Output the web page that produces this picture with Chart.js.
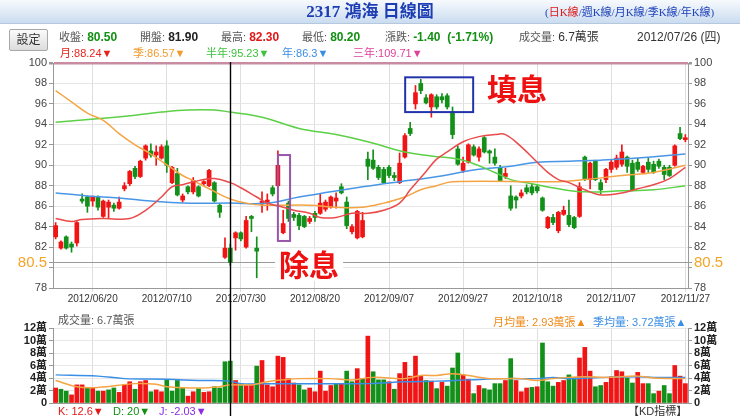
<!DOCTYPE html>
<html lang="zh-Hant">
<head>
<meta charset="UTF-8">
<title>2317 鴻海 日線圖</title>
<script src="https://cdn.jsdelivr.net/npm/chart.js"></script>
<style>
  body, html { margin: 0; padding: 0; background: #fff; font-family: Arial, "Liberation Sans", "Noto Sans CJK TC", sans-serif; }
  #wrap { position: relative; width: 740px; height: 416px; overflow: hidden; }
  .t { position: absolute; white-space: nowrap; font-size: 11px; line-height: 14px; z-index: 3; }
  .lab { color: #555; }
  .b { font-weight: bold; font-size: 12px; }
  #topbar { position: absolute; left: 0; top: 0; width: 740px; height: 23px; background: linear-gradient(#f7fafd, #cadcf0); border-bottom: 1px solid #b5c8de; }
  #title { position: absolute; left: 0; width: 740px; top: 2px; text-align: center; font: bold 17px "Liberation Serif", "Noto Sans CJK TC", serif; color: #1d3db4; line-height: 20px; z-index: 3; }
  #links { position: absolute; left: 545px; top: 5px; white-space: nowrap; font: 11px "Liberation Serif", "Noto Sans CJK TC", serif; color: #2244bb; line-height: 14px; z-index: 3; }
  #btn { position: absolute; left: 9px; top: 29px; width: 37px; height: 20px; border: 1px solid #a8a8a8; border-radius: 2px; background: linear-gradient(#fbfbfb, #dcdcdc); font-size: 12px; line-height: 20px; text-align: center; color: #333; z-index: 3; }
  canvas { position: absolute; left: 0; }
  #main { top: 0; z-index: 1; }
  #vol { top: 310px; z-index: 1; }
</style>
</head>
<body>
<div id="wrap">
  <div id="topbar"></div>
  <div id="title">2317 鴻海 日線圖</div>
  <div id="links">(<span style="color:#e01818">日K線</span>/週K線/月K線/季K線/年K線)</div>
  <div id="btn">設定</div>

  <div class="t" style="left:59px;top:30px"><span class="lab">收盤: </span><span class="b" style="color:#129012">80.50</span></div>
  <div class="t" style="left:140px;top:30px"><span class="lab">開盤: </span><span class="b" style="color:#222">81.90</span></div>
  <div class="t" style="left:221px;top:30px"><span class="lab">最高: </span><span class="b" style="color:#e01818">82.30</span></div>
  <div class="t" style="left:302px;top:30px"><span class="lab">最低: </span><span class="b" style="color:#129012">80.20</span></div>
  <div class="t" style="left:385px;top:30px"><span class="lab">漲跌: </span><span class="b" style="color:#129012">-1.40&nbsp; (-1.71%)</span></div>
  <div class="t" style="left:519px;top:30px"><span class="lab">成交量: </span><span style="color:#333;font-size:12px">6.7萬張</span></div>
  <div class="t" style="left:637px;top:30px;color:#333;font-size:12px">2012/07/26 (四)</div>

  <div class="t" style="left:60px;top:46px;color:#e8231f">月:88.24▼</div>
  <div class="t" style="left:133px;top:46px;color:#f39a2e">季:86.57▼</div>
  <div class="t" style="left:206px;top:46px;color:#3cc43c">半年:95.23▼</div>
  <div class="t" style="left:282px;top:46px;color:#3a8ee6">年:86.3▼</div>
  <div class="t" style="left:353px;top:46px;color:#e0409a">三年:109.71▼</div>

  <div class="t lab" style="left:58px;top:313px">成交量: 6.7萬張</div>
  <div class="t" style="left:493px;top:315px;color:#f08a1a">月均量: 2.93萬張▲</div>
  <div class="t" style="left:593px;top:315px;color:#3a8ee6">季均量: 3.72萬張▲</div>

  <div class="t" style="left:58px;top:404px;color:#e01818">K: 12.6▼</div>
  <div class="t" style="left:113px;top:404px;color:#129012">D: 20▼</div>
  <div class="t" style="left:159px;top:404px;color:#8a2be2">J: -2.03▼</div>
  <div class="t" style="left:628px;top:404px;color:#333">【KD指標】</div>

  <canvas id="main" width="740" height="310"></canvas>
  <canvas id="vol" width="740" height="106"></canvas>
</div>

<script>
  // trading days, 2012/06/11 .. 2012/11/27
  const dates = [
    '2012/06/11','2012/06/12','2012/06/13','2012/06/14','2012/06/15',
    '2012/06/18','2012/06/19','2012/06/20','2012/06/21','2012/06/22',
    '2012/06/25','2012/06/26','2012/06/27','2012/06/28','2012/06/29',
    '2012/07/02','2012/07/03','2012/07/04','2012/07/05','2012/07/06',
    '2012/07/09','2012/07/10','2012/07/11','2012/07/12','2012/07/13',
    '2012/07/16','2012/07/17','2012/07/18','2012/07/19','2012/07/20',
    '2012/07/23','2012/07/24','2012/07/25','2012/07/26','2012/07/27',
    '2012/07/30','2012/07/31','2012/08/01','2012/08/03',
    '2012/08/06','2012/08/07','2012/08/08','2012/08/09','2012/08/10',
    '2012/08/13','2012/08/14','2012/08/15','2012/08/16','2012/08/17',
    '2012/08/20','2012/08/21','2012/08/22','2012/08/23','2012/08/24',
    '2012/08/27','2012/08/28','2012/08/29','2012/08/30','2012/08/31',
    '2012/09/03','2012/09/04','2012/09/05','2012/09/06','2012/09/07',
    '2012/09/10','2012/09/11','2012/09/12','2012/09/13','2012/09/14',
    '2012/09/17','2012/09/18','2012/09/19','2012/09/20','2012/09/21',
    '2012/09/24','2012/09/25','2012/09/26','2012/09/27','2012/09/28',
    '2012/10/01','2012/10/02','2012/10/03','2012/10/04','2012/10/05',
    '2012/10/08','2012/10/09','2012/10/11','2012/10/12',
    '2012/10/15','2012/10/16','2012/10/17','2012/10/18','2012/10/19',
    '2012/10/22','2012/10/23','2012/10/24','2012/10/25','2012/10/26',
    '2012/10/29','2012/10/30','2012/10/31','2012/11/01','2012/11/02',
    '2012/11/05','2012/11/06','2012/11/07','2012/11/08','2012/11/09',
    '2012/11/12','2012/11/13','2012/11/14','2012/11/15','2012/11/16',
    '2012/11/19','2012/11/20','2012/11/21','2012/11/22','2012/11/23',
    '2012/11/26','2012/11/27'
  ];

  const opens = [
    83.0,81.9,83.0,82.3,82.4,86.7,86.9,86.5,86.9,85.0,
    85.9,86.1,85.8,87.7,88.2,89.7,88.9,90.7,91.4,91.0,
    90.7,91.9,88.3,89.2,86.6,87.9,87.4,87.9,88.2,88.0,
    88.3,86.1,81.0,81.9,82.9,83.4,82.0,85.0,81.9,86.2,
    86.3,87.8,88.0,83.4,86.3,85.2,85.1,85.0,84.5,85.3,
    85.3,85.7,85.9,86.5,87.9,86.4,83.5,82.9,83.0,90.6,
    90.5,89.8,89.6,89.8,89.0,88.3,90.8,93.6,96.0,98.0,
    96.6,95.7,96.7,96.7,96.8,95.2,91.6,89.5,90.3,91.8,
    90.8,92.7,91.4,90.8,89.8,88.9,87.0,86.9,87.0,87.8,
    87.9,87.9,86.8,83.9,84.9,83.6,85.2,85.1,84.9,85.0,
    90.8,88.6,90.4,88.3,88.6,89.6,89.8,90.1,90.8,90.2,
    90.3,89.3,90.3,90.1,90.4,89.8,89.8,90.0,93.1,92.5
  ];
  const highs = [
    84.4,82.6,83.1,82.5,84.5,87.2,87.0,87.0,87.0,86.6,
    86.6,86.3,86.9,88.3,89.5,89.9,90.5,92.0,92.1,91.9,
    92.0,92.4,89.9,89.7,87.2,88.0,88.8,88.0,88.5,89.6,
    88.4,86.2,82.9,82.3,83.5,83.5,85.0,85.1,83.0,87.4,
    87.2,88.0,91.4,85.6,86.5,85.4,85.3,85.1,85.0,85.5,
    87.2,86.6,87.0,87.3,88.2,86.9,84.2,85.6,85.4,91.3,
    91.5,90.0,89.8,90.0,89.3,91.2,93.1,94.2,97.8,98.4,
    96.9,97.0,96.9,97.0,97.0,95.7,91.9,90.8,92.1,92.0,
    91.8,92.8,91.5,91.6,90.0,89.7,88.0,87.0,87.6,88.1,
    88.2,88.1,86.9,85.0,85.2,85.5,86.0,86.6,85.0,88.3,
    90.9,90.3,90.5,88.6,89.7,90.5,91.0,92.0,90.9,90.5,
    90.7,90.0,90.7,90.4,90.6,90.0,90.0,92.0,93.7,93.0
  ];
  const lows = [
    82.8,81.8,81.8,81.5,82.1,86.3,85.4,86.0,85.6,84.9,
    84.8,85.5,85.7,87.5,88.0,88.7,88.8,90.5,90.8,90.0,
    90.6,89.3,88.2,87.0,86.4,87.2,87.2,86.9,88.0,87.9,
    86.4,84.9,80.9,80.2,81.7,82.6,81.9,83.5,79.0,85.4,
    85.6,87.0,87.8,83.3,84.5,84.6,83.7,83.9,84.3,84.5,
    85.2,85.5,85.8,85.8,87.2,83.8,83.3,82.8,82.9,88.6,
    89.6,88.6,88.2,88.8,88.5,88.2,90.7,92.9,95.5,97.0,
    96.0,94.7,95.5,96.1,95.5,92.6,90.0,89.3,90.2,90.9,
    90.4,91.2,90.2,90.0,88.4,88.7,85.6,85.8,86.8,87.2,
    87.1,87.3,85.5,83.8,84.2,83.4,85.1,84.0,83.8,84.9,
    88.5,87.7,88.5,87.2,88.3,89.3,89.6,89.9,89.3,87.5,
    89.4,89.2,89.3,89.2,89.7,88.6,88.9,89.9,92.5,92.3
  ];
  const closes = [
    84.1,82.5,81.9,82.0,84.4,86.5,86.0,86.9,85.9,86.5,
    86.4,85.8,86.4,88.0,89.4,88.9,90.4,91.9,91.0,91.3,
    91.8,90.0,89.8,87.1,87.0,87.4,88.5,87.0,88.4,89.5,
    86.5,85.4,81.9,80.5,83.4,82.8,84.6,84.8,81.6,86.5,
    86.6,87.2,90.0,84.3,84.8,84.9,84.1,84.0,84.8,84.9,
    86.3,86.4,86.9,86.8,87.3,84.1,84.0,85.5,84.6,89.9,
    89.7,88.8,88.3,89.0,88.8,90.2,92.9,93.1,97.1,97.3,
    96.1,96.9,95.7,96.4,95.7,93.0,90.1,90.2,92.0,91.0,
    91.6,91.3,91.2,90.2,88.5,89.2,85.8,86.6,87.3,87.4,
    87.3,87.5,85.6,84.9,84.4,85.4,85.6,84.2,83.9,87.9,
    88.6,90.2,88.6,87.6,89.6,90.3,90.7,91.3,89.9,87.6,
    89.6,89.9,89.6,89.3,89.9,89.1,89.0,91.9,92.6,92.7
  ];
  // volume, 萬張
  const volumes = [
    2.4,2.2,1.9,1.3,2.9,2.9,2.4,2.4,1.9,1.9,
    2.1,2.4,1.7,2.9,3.4,2.2,3.4,3.6,1.8,2.1,
    1.8,3.7,1.9,3.6,2.4,1.1,1.8,2.3,1.7,1.8,
    2.6,2.4,6.6,6.7,3.6,2.9,2.8,2.8,5.9,6.8,
    2.9,2.6,7.5,7.3,3.9,3.2,2.9,2.1,2.4,1.8,
    5.1,1.9,2.8,3.0,3.0,5.1,3.4,5.5,3.9,10.7,
    5.0,3.7,3.7,3.4,2.2,4.7,6.5,4.3,7.5,4.3,
    3.6,3.5,2.3,3.3,2.7,5.6,8.0,4.5,3.8,1.5,
    2.8,2.3,2.1,3.1,3.1,3.6,7.1,3.6,1.8,2.4,
    2.5,2.6,9.6,3.4,2.7,3.3,3.6,4.5,4.1,7.2,
    8.9,5.1,2.6,2.8,3.3,4.2,5.2,5.0,4.0,3.2,
    4.9,3.1,3.1,1.5,1.9,2.8,1.5,6.0,4.3,3.1
  ];
  // ex-dividend day: reference price used for the day's change
  const exDividend = { index: 43, refPrice: 80.45 };

  // moving averages read at sample days (day index, value)
  const maMonthIdx = [0,3,5,9,14,17,20,22,24,27,30,33,35,38,40,43,45,48,50,53,56,59,62,65,67,70,72,74,77,80,83,85,88,91,93,95,97,100,103,107,110,113,116,119];
  const maMonthVal = [84.8,84.5,84.7,84.8,84.8,85.6,86.9,87.9,88.1,88.5,88.7,88.3,87.8,86.9,86.3,85.9,85.6,85.3,84.9,84.9,85.3,85.3,85.6,86.3,87.6,89.4,90.6,91.3,92.3,92.8,93.0,93.0,91.8,90.3,89.3,88.6,88.3,87.6,87.1,87.3,87.7,88.1,88.7,89.8];
  const maQuarterIdx = [0,3,6,9,12,15,18,22,24,26,29,33,36,39,48,53,58,62,66,69,72,75,95,100,107,113,119];
  const maQuarterVal = [97.3,96.2,95.1,94.4,93.1,92.0,91.1,89.7,89.0,88.5,87.7,86.7,86.3,86.1,86.1,85.9,85.9,86.3,86.9,87.6,88.0,88.4,88.4,88.6,89.0,89.3,90.0];
  const maHalfIdx = [0,9,15,20,25,30,33,39,46,53,59,66,71,77,83,86,89,95,100,107,113,119];
  const maHalfVal = [94.2,94.6,94.9,95.2,95.4,95.4,95.2,94.7,93.6,93.0,92.3,91.3,90.9,90.5,89.3,88.6,88.3,87.7,87.4,87.5,87.6,88.0];
  const maYearIdx = [0,6,12,18,24,33,40,46,52,58,65,71,80,86,91,97,103,110,119];
  const maYearVal = [87.3,87.0,86.8,86.5,86.3,86.3,86.3,86.9,87.4,87.9,88.4,88.8,89.6,89.9,90.3,90.4,90.5,90.7,91.1];
  const volMaMonthIdx = [0,4,8,15,19,21,27,31,33,37,40,43,46,52,56,60,66,69,72,75,78,82,85,88,91,94,97,100,104,110,113,119];
  const volMaMonthVal = [3.6,2.6,2.5,3.1,3.0,2.6,2.4,2.6,2.9,2.9,3.4,3.7,3.9,3.9,3.7,4.1,3.9,4.4,4.4,4.7,4.4,3.9,3.9,3.9,3.6,3.9,4.1,4.2,4.1,4.3,4.0,3.9];
  const volMaQuarterIdx = [0,8,13,21,27,33,35,40,46,52,59,66,72,78,85,91,94,97,104,110,113,119];
  const volMaQuarterVal = [4.5,4.3,3.9,3.8,3.6,3.5,3.1,3.1,3.1,3.1,3.1,3.4,3.5,3.7,3.9,3.9,4.1,3.9,4.1,4.2,4.1,4.1];

  const priceTicks = { min: 78, max: 100, step: 2, ref: 80.5, hidden: 80 };
  const volTicks = { min: 0, max: 12, step: 2 };
  const cursorIndex = 33;

  const RED = '#f01414', GREEN = '#13901a';
  const FONT = 'Arial, "Liberation Sans", "Noto Sans CJK TC", sans-serif';
  Chart.defaults.font.family = FONT;

  const candleColors = closes.map((c, i) => c >= opens[i] ? RED : GREEN);
  const volColors = closes.map((c, i) => {
    if (i === 0) return RED;
    const prev = i === exDividend.index ? exDividend.refPrice : closes[i - 1];
    return c >= prev ? RED : GREEN;
  });
  const pts = (idx, val) => idx.map((d, k) => ({ x: dates[d], y: val[k] }));
  const showLabel = i => i % 14 === 7;
  const vGrid = ctx => showLabel(ctx.index) ? '#dedede' : 'rgba(0,0,0,0)';
  const tickVal = ctx => ctx.tick ? ctx.tick.value : null;

  const cursorLine = {
    id: 'cursorLine',
    afterDraw(chart, args, opts) {
      const x = Math.round(chart.scales.x.getPixelForValue(cursorIndex)) + 0.5;
      const c = chart.ctx;
      c.save();
      c.strokeStyle = '#000';
      c.lineWidth = 1.4;
      c.beginPath();
      c.moveTo(x, opts.top || 0);
      c.lineTo(x, chart.height);
      c.stroke();
      c.restore();
    }
  };

  const notes = {
    id: 'notes',
    afterDatasetsDraw(chart) {
      const xs = chart.scales.x, ys = chart.scales.y, c = chart.ctx;
      const box = (x0, x1, y0, y1, col) => {
        const l = xs.getPixelForValue(x0), r = xs.getPixelForValue(x1);
        const t = ys.getPixelForValue(y1), b = ys.getPixelForValue(y0);
        c.strokeStyle = col; c.lineWidth = 2;
        c.strokeRect(l, t, r - l, b - t);
      };
      const label = (txt, xi, yv, bg) => {
        const x = xs.getPixelForValue(xi), y = ys.getPixelForValue(yv);
        c.font = 'bold 30px "Noto Sans CJK TC", sans-serif';
        c.textAlign = 'center'; c.textBaseline = 'middle';
        const w = c.measureText(txt).width;
        if (bg) { c.fillStyle = '#fff'; c.fillRect(x - w / 2 - 4, y - 16, w + 8, 32); }
        c.fillStyle = '#ee1111';
        c.fillText(txt, x, y);
      };
      c.save();
      box(66.05, 78.9, 95.2, 98.6, '#2233aa');
      box(42.0, 44.3, 82.6, 91.0, '#9955aa');
      label('填息', 87.2, 97.45, false);
      label('除息', 47.9, 80.25, true);
      c.restore();
    }
  };

  const priceAxis = (pos) => ({
    position: pos,
    min: priceTicks.min,
    max: priceTicks.max,
    afterBuildTicks: s => { s.ticks.push({ value: priceTicks.ref }); },
    afterFit: s => { s.width = pos === 'left' ? 53 : 52; },
    border: { color: '#999' },
    grid: {
      drawOnChartArea: pos === 'left',
      tickLength: 4,
      color: ctx => tickVal(ctx) === 100 ? '#c98ba2' : tickVal(ctx) === priceTicks.ref ? '#9a9a9a' : '#e6e6e6',
      lineWidth: ctx => tickVal(ctx) === 100 ? 2.5 : 1,
      tickColor: '#999'
    },
    ticks: {
      stepSize: priceTicks.step,
      autoSkip: false,
      padding: 2,
      color: ctx => tickVal(ctx) === priceTicks.ref ? '#f4a428' : '#444',
      font: ctx => tickVal(ctx) === priceTicks.ref ? { size: 15 } : { size: 11 },
      callback: v => v === priceTicks.ref ? '80.5' : v === priceTicks.hidden ? '' : v
    }
  });

  new Chart(document.getElementById('main'), {
    data: {
      labels: dates,
      datasets: [
        { type: 'line', data: pts(maMonthIdx, maMonthVal), borderColor: '#ea4a4a', borderWidth: 1.5, pointRadius: 0, tension: 0.4, order: 1 },
        { type: 'line', data: pts(maQuarterIdx, maQuarterVal), borderColor: '#f5a443', borderWidth: 1.5, pointRadius: 0, tension: 0.4, order: 1 },
        { type: 'line', data: pts(maHalfIdx, maHalfVal), borderColor: '#5cd046', borderWidth: 1.5, pointRadius: 0, tension: 0.4, order: 1 },
        { type: 'line', data: pts(maYearIdx, maYearVal), borderColor: '#4a96e6', borderWidth: 1.5, pointRadius: 0, tension: 0.4, order: 1 },
        { type: 'bar', data: dates.map((d, i) => [lows[i], highs[i]]), backgroundColor: candleColors, barThickness: 1, grouped: false, order: 3 },
        { type: 'bar', data: dates.map((d, i) => [opens[i], closes[i]]), backgroundColor: candleColors, barThickness: 4, minBarLength: 1, grouped: false, order: 2 }
      ]
    },
    options: {
      responsive: false,
      animation: false,
      devicePixelRatio: 1,
      layout: { padding: { top: 63, left: 0, right: 0, bottom: 0 } },
      scales: {
        x: {
          offset: true,
          afterFit: s => { s.height = 22; },
          border: { color: '#999' },
          grid: { offset: false, color: vGrid, tickColor: vGrid, tickLength: 4 },
          ticks: { autoSkip: false, maxRotation: 0, padding: 1, color: '#333', font: { size: 10 },
                   callback: (v, i) => showLabel(i) ? dates[i] : '' }
        },
        y: priceAxis('left'),
        y2: priceAxis('right')
      },
      plugins: { legend: { display: false }, tooltip: { enabled: false }, cursorLine: { top: 62 } }
    },
    plugins: [notes, cursorLine]
  });

  const volAxis = (pos) => ({
    position: pos,
    min: volTicks.min,
    max: volTicks.max,
    afterFit: s => { s.width = pos === 'left' ? 53 : 52; },
    border: { color: '#999' },
    grid: { drawOnChartArea: pos === 'left', color: '#e8e8e8', tickLength: 4, tickColor: '#999' },
    ticks: { stepSize: volTicks.step, autoSkip: false, padding: 2, color: '#222', font: { size: 11, weight: 'bold' },
             callback: v => v === 0 ? '0' : v + '萬' }
  });

  new Chart(document.getElementById('vol'), {
    data: {
      labels: dates,
      datasets: [
        { type: 'line', data: pts(volMaMonthIdx, volMaMonthVal), borderColor: '#f5a443', borderWidth: 1.5, pointRadius: 0, tension: 0.4, order: 1 },
        { type: 'line', data: pts(volMaQuarterIdx, volMaQuarterVal), borderColor: '#3a8ee6', borderWidth: 1.5, pointRadius: 0, tension: 0.4, order: 1 },
        { type: 'bar', data: volumes, backgroundColor: volColors, barThickness: 4, order: 2 }
      ]
    },
    options: {
      responsive: false,
      animation: false,
      devicePixelRatio: 1,
      layout: { padding: { top: 18, left: 0, right: 0, bottom: 0 } },
      scales: {
        x: {
          offset: true,
          afterFit: s => { s.height = 13; },
          border: { color: '#999' },
          grid: { offset: false, color: vGrid, drawTicks: false },
          ticks: { display: false, autoSkip: false }
        },
        y: volAxis('left'),
        y2: volAxis('right')
      },
      plugins: { legend: { display: false }, tooltip: { enabled: false }, cursorLine: { top: 0 } }
    },
    plugins: [cursorLine]
  });
</script>
</body>
</html>
